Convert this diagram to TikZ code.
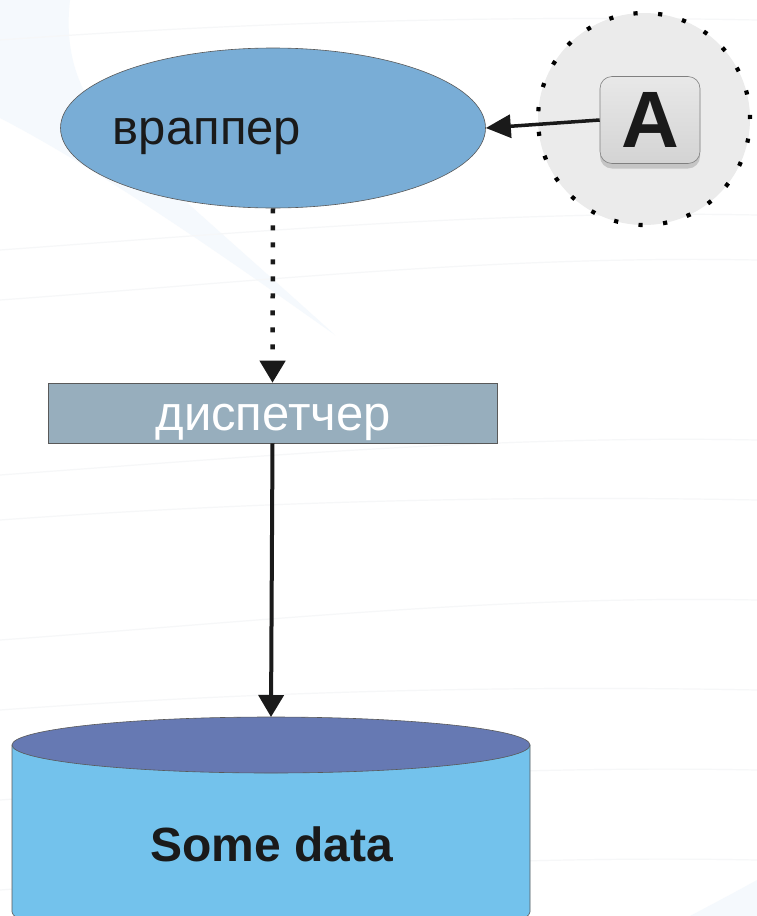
\documentclass[tikz,border=0pt]{standalone}
\usepackage{fontspec}
\setmainfont{Liberation Sans}
\usetikzlibrary{arrows.meta,shapes.geometric,shadows}
\definecolor{ellfill}{RGB}{121,173,214}
\definecolor{dispfill}{RGB}{151,174,189}
\definecolor{cyltop}{RGB}{102,121,179}
\definecolor{cylbody}{RGB}{115,194,236}
\definecolor{circfill}{RGB}{235,235,235}
\definecolor{swoosh}{RGB}{245,249,253}
\definecolor{faintline}{RGB}{246,247,248}
\definecolor{txtdark}{RGB}{26,26,26}
\begin{document}
\begin{tikzpicture}[x=1pt,y=-1pt,
  bigtext/.style={font=\fontsize{49}{55}\selectfont, inner sep=0pt},
  edgeline/.style={draw=black!65, line width=0.6pt},
  conn/.style={draw=txtdark, -{Triangle[width=25pt,length=22pt]}}
]
\clip (0,0) rectangle (757,916);
\fill[white] (0,0) rectangle (757,916);
% faint background decoration
\fill[swoosh] (0,0) -- (70,0) .. controls (62,70) and (90,115) .. (140,160)
  .. controls (200,215) and (280,285) .. (335,335)
  .. controls (250,275) and (110,175) .. (0,118) -- cycle;
\fill[swoosh] (757,880) .. controls (730,895) and (705,908) .. (690,916) -- (757,916) -- cycle;
\foreach \ya/\yb in {40/20, 250/215, 300/260, 475/440, 520/500, 640/600, 710/690, 800/770, 890/860}{
  \draw[faintline, line width=1.2pt] (0,\ya) .. controls (250,\ya-18) and (500,\yb-5) .. (757,\yb);
}
% dotted circle with A button
\node[circle, minimum size=212pt, fill=circfill, draw=black, line width=4.2pt,
      dash pattern=on 4.2pt off 20.5pt] (circ) at (644,119) {};
\node[rounded corners=12pt, minimum width=100pt, minimum height=87pt,
      top color=black!9, bottom color=black!17, draw=black!50, line width=0.6pt,
      drop shadow={opacity=0.35, shadow xshift=0pt, shadow yshift=-5pt},
      font=\fontsize{80}{84}\selectfont\bfseries, text=txtdark, inner sep=0pt] (abtn) at (650,120) {A};
% wrapper ellipse
\node[ellipse, minimum width=425pt, minimum height=160pt, fill=ellfill, edgeline] (wr) at (273,128) {};
\node[bigtext, text=txtdark, anchor=base] (wrtext) at (207,144) {враппер};
% dispatcher rect
\node[rectangle, minimum width=449pt, minimum height=60pt, fill=dispfill, edgeline] (disp) at (272.5,413) {};
\node[bigtext, text=white, anchor=base] (disptext) at (273,430) {диспетчер};
% cylinder
\coordinate (dbtop) at (271,717);
\filldraw[fill=cylbody, edgeline] (12,745) -- (12,912)
  arc[start angle=180, end angle=0, x radius=259, y radius=28] -- (530,745) -- cycle;
\filldraw[fill=cyltop, edgeline] (271,745) ellipse[x radius=259, y radius=28];
\node[font=\fontsize{48}{54}\selectfont\bfseries, text=txtdark, inner sep=0pt, anchor=base] (dbtext) at (272,861) {Some data};
% connectors
\draw[txtdark, line width=3.5pt, -{Triangle[width=23pt,length=25pt]}] (abtn.west) -- (wr.east);
\draw[conn, line width=4.5pt, dash pattern=on 5pt off 12pt] (wr.south) -- (disp.north);
\draw[conn, line width=4pt] (disp.south) -- (dbtop);
\end{tikzpicture}
\end{document}
